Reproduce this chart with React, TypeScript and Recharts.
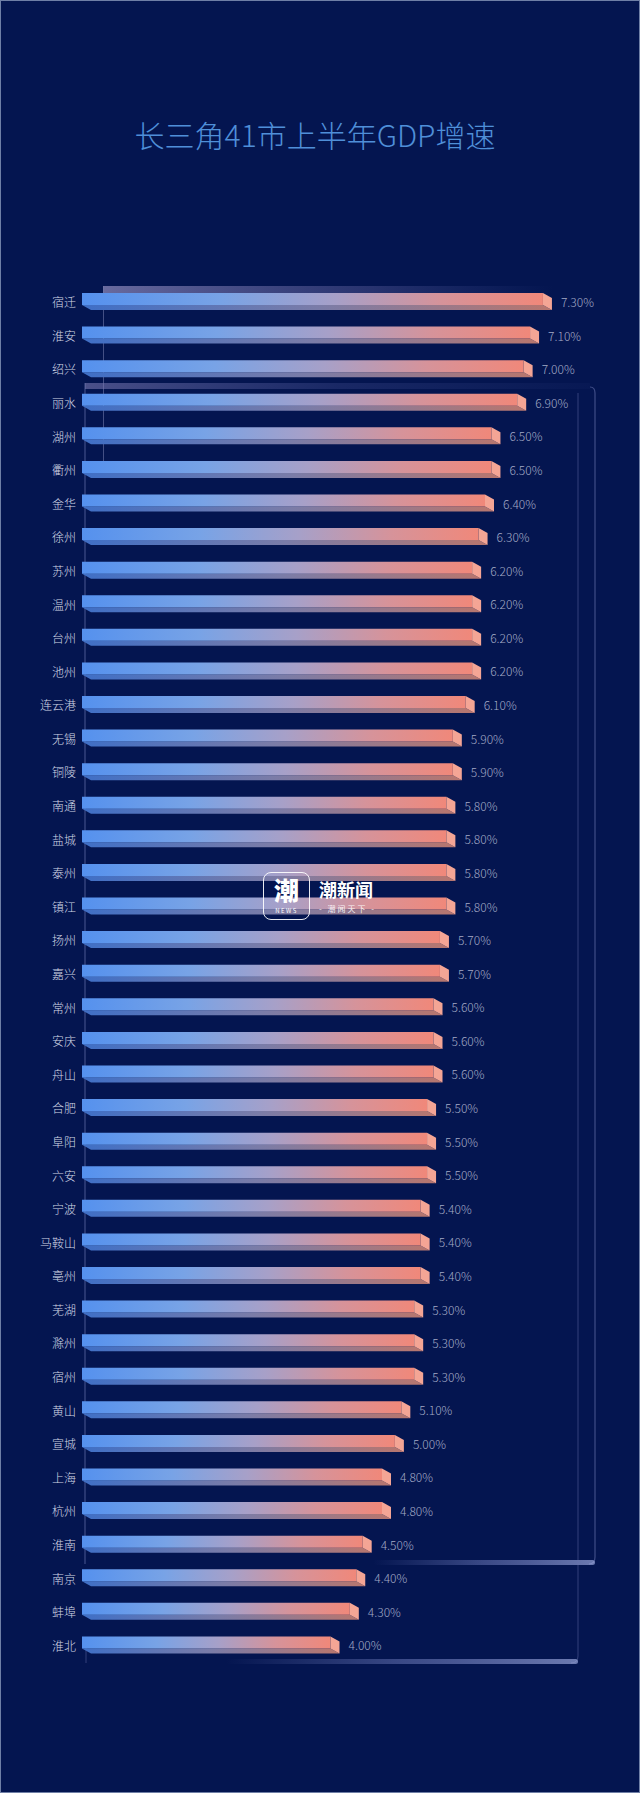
import React from "react";
import { BarChart, Bar, XAxis, YAxis, LabelList } from "recharts";

const cities = [
  "宿迁", "淮安", "绍兴", "丽水", "湖州", "衢州", "金华", "徐州", "苏州", "温州",
  "台州", "池州", "连云港", "无锡", "铜陵", "南通", "盐城", "泰州", "镇江", "扬州",
  "嘉兴", "常州", "安庆", "舟山", "合肥", "阜阳", "六安", "宁波", "马鞍山", "亳州",
  "芜湖", "滁州", "宿州", "黄山", "宣城", "上海", "杭州", "淮南", "南京", "蚌埠", "淮北",
];
const growth = [
  7.3, 7.1, 7.0, 6.9, 6.5, 6.5, 6.4, 6.3, 6.2, 6.2,
  6.2, 6.2, 6.1, 5.9, 5.9, 5.8, 5.8, 5.8, 5.8, 5.7,
  5.7, 5.6, 5.6, 5.6, 5.5, 5.5, 5.5, 5.4, 5.4, 5.4,
  5.3, 5.3, 5.3, 5.1, 5.0, 4.8, 4.8, 4.5, 4.4, 4.3, 4.0,
];
const xDomain = [0, 8];
const title = "长三角41市上半年GDP增速";

const data = cities.map((city, i) => ({ city, value: growth[i] }));

const FONT = '"Noto Sans CJK SC", "Noto Sans", sans-serif';

const Bar3D = (props: any) => {
  const { x, y, width, height, index } = props;
  if (!width || width <= 0) return null;
  const dx = 9;
  const dy = 5;
  const fh = height - dy;
  const gf = `gf-${index}`;
  const gb = `gb-${index}`;
  return (
    <g>
      <defs>
        <linearGradient id={gf} x1="0" y1="0" x2="1" y2="0">
          <stop offset="0" stopColor="#5591ee" />
          <stop offset="0.3" stopColor="#78a3e6" />
          <stop offset="0.55" stopColor="#a7a0c8" />
          <stop offset="0.78" stopColor="#d6939a" />
          <stop offset="1" stopColor="#f0887a" />
        </linearGradient>
        <linearGradient id={gb} x1="0" y1="0" x2="1" y2="0">
          <stop offset="0" stopColor="#3f6fc6" />
          <stop offset="0.5" stopColor="#7a7ca8" />
          <stop offset="1" stopColor="#b8766e" />
        </linearGradient>
      </defs>
      <path
        d={`M${x},${y + fh} H${x + width - dx} L${x + width},${y + height} H${x + dx} Z`}
        fill={`url(#${gb})`}
      />
      <path
        d={`M${x},${y} H${x + width - dx} V${y + fh} H${x} Z`}
        fill={`url(#${gf})`}
      />
      <path
        d={`M${x + width - dx},${y} L${x + width},${y + dy} V${y + height} L${x + width - dx},${y + fh} Z`}
        fill="#f4a595"
      />
    </g>
  );
};

const ValueLabel = (props: any) => {
  const { x, y, width, height, value } = props;
  return (
    <text
      x={x + width + 9}
      y={y + height / 2}
      dominantBaseline="central"
      fill="#a3aac6"
      fontSize={12}
      fontFamily={FONT}
      fontWeight={300}
    >
      {`${Number(value).toFixed(2)}%`}
    </text>
  );
};

const CityTick = (props: any) => {
  const { x, y, payload } = props;
  return (
    <text
      x={x}
      y={y}
      textAnchor="end"
      dominantBaseline="central"
      fill="#d3d8e6"
      fontSize={12}
      fontFamily={FONT}
      fontWeight={300}
    >
      {payload.value}
    </text>
  );
};

const Panels = () => (
  <svg
    width={640}
    height={1793}
    style={{ position: "absolute", left: 0, top: 0 }}
  >
    <defs>
      <linearGradient id="topBand" x1="0" y1="0" x2="1" y2="0">
        <stop offset="0" stopColor="#8a86b8" stopOpacity="0.75" />
        <stop offset="0.6" stopColor="#6a6aa8" stopOpacity="0.35" />
        <stop offset="1" stopColor="#4a5aa0" stopOpacity="0" />
      </linearGradient>
      <linearGradient id="topBand2" x1="0" y1="0" x2="1" y2="0">
        <stop offset="0" stopColor="#7a78b0" stopOpacity="0.6" />
        <stop offset="0.5" stopColor="#5a62a6" stopOpacity="0.25" />
        <stop offset="1" stopColor="#4a5aa0" stopOpacity="0.05" />
      </linearGradient>
      <linearGradient id="botGlow" x1="0" y1="0" x2="1" y2="0">
        <stop offset="0" stopColor="#8c98d8" stopOpacity="0" />
        <stop offset="0.5" stopColor="#8c98d8" stopOpacity="0.4" />
        <stop offset="1" stopColor="#a4b0e4" stopOpacity="0.65" />
      </linearGradient>
    </defs>
    <rect x={102} y={285} width={450} height={7} fill="url(#topBand)" />
    <line x1={102.5} y1={285} x2={102.5} y2={470} stroke="#6f78a8" strokeOpacity={0.6} strokeWidth={1} />
    <rect x={84} y={382} width={505} height={6} fill="url(#topBand2)" />
    <path
      d="M84,382 V1563 M589,386 Q594,386 594,392 V1556 Q594,1563 588,1563"
      stroke="#7c86c0"
      strokeOpacity={0.5}
      fill="none"
      strokeWidth={1.2}
    />
    <rect x={372} y={1559} width={222} height={5} rx={2.5} fill="url(#botGlow)" />
    <path
      d="M577,392 V1655 Q577,1662 570,1662 M85,1640 V1662"
      stroke="#6c76b0"
      strokeOpacity={0.45}
      fill="none"
      strokeWidth={1}
    />
    <rect x={225} y={1658} width={352} height={5} rx={2.5} fill="url(#botGlow)" />
  </svg>
);

const Watermark = () => (
  <div style={{ position: "absolute", left: 262, top: 871, width: 130, height: 52, pointerEvents: "none" }}>
    <div
      style={{
        position: "absolute",
        left: 0,
        top: 0,
        width: 47,
        height: 48,
        border: "1.5px solid rgba(255,255,255,0.9)",
        borderRadius: 8,
        boxSizing: "border-box",
        color: "#fff",
        fontFamily: FONT,
      }}
    >
      <div
        style={{
          position: "absolute",
          left: 0,
          top: 2,
          width: "100%",
          textAlign: "center",
          fontSize: 25,
          fontWeight: 900,
          lineHeight: "29px",
        }}
      >
        潮
      </div>
      <div
        style={{
          position: "absolute",
          left: 0,
          top: 34,
          width: "100%",
          textAlign: "center",
          fontSize: 6,
          letterSpacing: 1.5,
          lineHeight: "8px",
        }}
      >
        NEWS
      </div>
    </div>
    <div
      style={{
        position: "absolute",
        left: 56,
        top: 6,
        fontSize: 18,
        fontWeight: 700,
        color: "#fff",
        fontFamily: FONT,
        lineHeight: "22px",
        whiteSpace: "nowrap",
      }}
    >
      潮新闻
    </div>
    <div
      style={{
        position: "absolute",
        left: 56,
        top: 32,
        fontSize: 8,
        lineHeight: "10px",
        color: "rgba(255,255,255,0.9)",
        fontFamily: FONT,
        letterSpacing: 2,
        whiteSpace: "nowrap",
      }}
    >
      - 潮闻天下 -
    </div>
  </div>
);

export default function App() {
  return (
    <div
      style={{
        position: "absolute",
        left: 0,
        top: 0,
        width: 640,
        height: 1793,
        background: "#041550",
        border: "1px solid #6f7fa6",
        boxSizing: "border-box",
        overflow: "hidden",
      }}
    >
      <Panels />
      <div
        style={{
          position: "absolute",
          left: 0,
          top: 115,
          width: 628,
          textAlign: "center",
          fontSize: 30,
          lineHeight: "36px",
          color: "#4f8fd8",
          fontFamily: FONT,
          fontWeight: 300,
        }}
      >
        {title}
      </div>
      <div style={{ position: "absolute", left: -1, top: -1 }}>
        <BarChart
          width={640}
          height={1793}
          data={data}
          layout="vertical"
          margin={{ top: 285, right: 43, bottom: 131, left: 0 }}
          barCategoryGap={0}
        >
          <XAxis type="number" domain={xDomain} hide />
          <YAxis
            type="category"
            dataKey="city"
            width={82}
            axisLine={false}
            tickLine={false}
            tickSize={6}
            tickMargin={0}
            interval={0}
            tick={<CityTick />}
          />
          <Bar dataKey="value" barSize={17} shape={<Bar3D />} isAnimationActive={false}>
            <LabelList dataKey="value" content={<ValueLabel />} />
          </Bar>
        </BarChart>
      </div>
      <Watermark />
    </div>
  );
}
